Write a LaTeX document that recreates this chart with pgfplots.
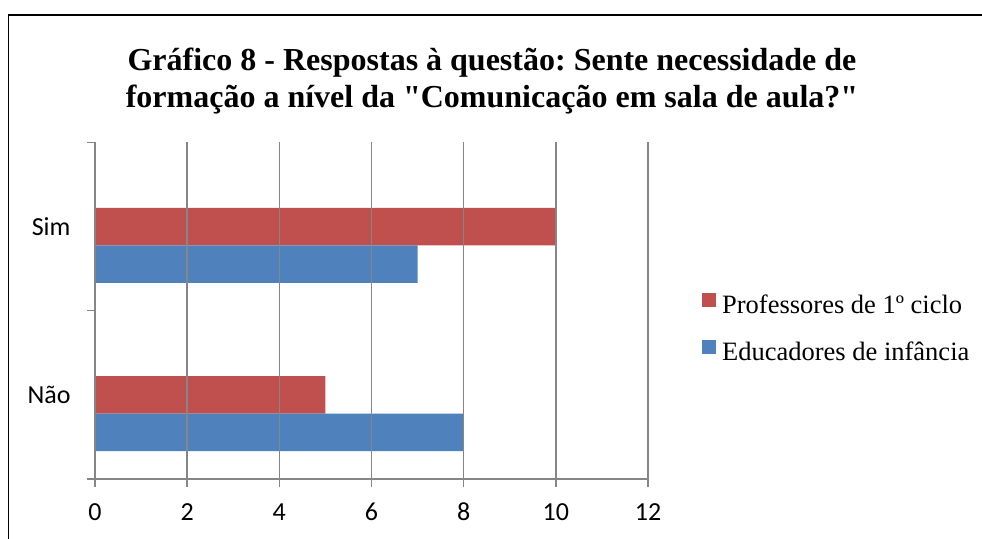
\documentclass[border=0pt]{standalone}
\usepackage{fontspec}
\setmainfont{Liberation Serif}[Ligatures=TeXOff]
\newfontfamily\calibri{Carlito}
\usepackage{pgfplots}
\pgfplotsset{compat=1.18}
\frenchspacing

\definecolor{profred}{HTML}{C0504D}
\definecolor{edublue}{HTML}{4F81BD}
\definecolor{gridgray}{HTML}{868686}

\begin{document}
\begin{tikzpicture}[x=1pt,y=1pt]
  \useasboundingbox (0,0) rectangle (982,538);
  % outer frame (only left and top edges fall inside the crop)
  \draw[black, line width=1.6pt] (8.5,-2) -- (8.5,523) -- (990,523);

  % title
  \node[anchor=base, font=\bfseries\fontsize{32}{37}\selectfont] at (492,467) {Gráfico 8 - Respostas à questão: Sente necessidade de};
  \node[anchor=base, font=\bfseries\fontsize{32}{37}\selectfont] at (492,430) {formação a nível da "Comunicação em sala de aula?"};

  \begin{axis}[
    at={(95pt,59pt)}, anchor=south west,
    scale only axis,
    width=553pt, height=336.5pt,
    xmin=0, xmax=12,
    ymin=-0.5, ymax=1.5,
    xbar, bar width=0.223, bar shift=0pt,
    axis on top,
    axis x line*=bottom, axis y line*=left,
    axis line style={gridgray, line width=1.4pt, -},
    xtick={0,2,...,12},
    ytick={0,1}, yticklabels={Não,Sim},
    minor ytick={-0.5,0.5,1.5},
    major y tick style={draw=none},
    tick align=outside,
    major tick length=8pt, minor tick length=8pt,
    tick style={gridgray, line width=1.4pt},
    xmajorgrids,
    major x grid style={gridgray, line width=1.4pt},
    ticklabel style={font=\calibri\fontsize{26}{26}\selectfont},
    /pgf/number format/assume math mode=true,
    xticklabel style={text height=17pt, text depth=0pt, yshift=-13pt},
    yticklabel style={xshift=-13pt},
    legend style={draw=none, fill=none, inner sep=0pt,
      at={(axis description cs:1.0976,0.443)}, anchor=west,
      font=\fontsize{26.5}{26.5}\selectfont,
      row sep=20pt,
      nodes={inner sep=0pt, text height=18pt, text depth=6pt},
      /tikz/every odd column/.append style={column sep=6pt}},
    legend cell align=left,
    legend image code/.code={\fill[#1] (0pt,1pt) rectangle (14pt,15pt);},
  ]
    \addplot[fill=profred, draw=none] coordinates {(10,1) (5,0)};
    \addlegendentry{Professores de 1º ciclo}
    \addplot[fill=edublue, draw=none] coordinates {(7,0.777) (8,-0.223)};
    \addlegendentry{Educadores de infância}
  \end{axis}
\end{tikzpicture}
\end{document}
